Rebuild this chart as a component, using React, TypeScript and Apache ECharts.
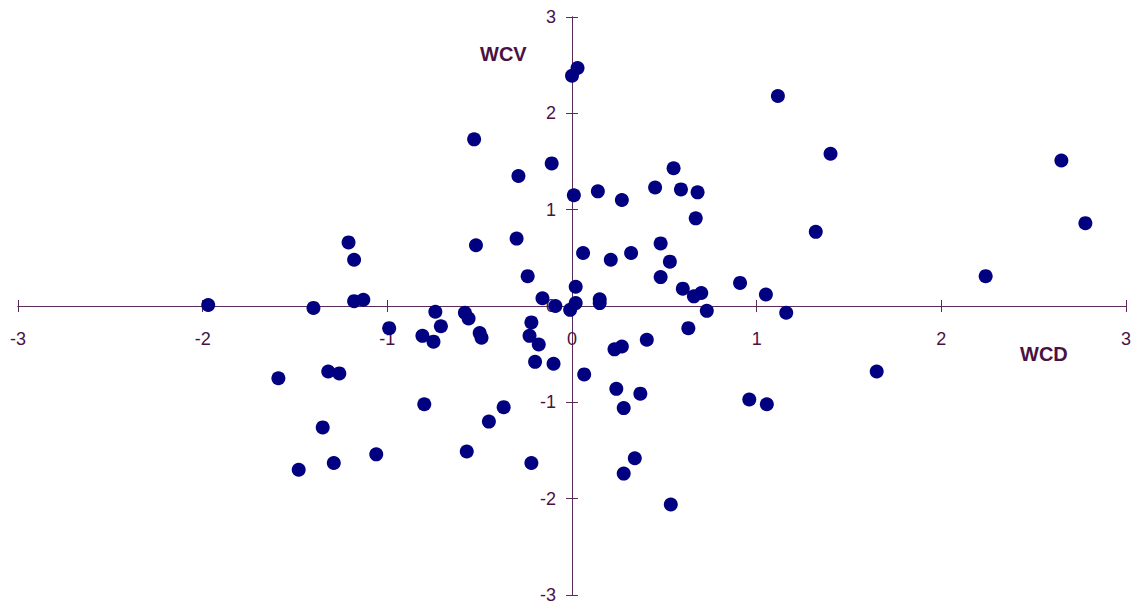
import React, { useEffect, useRef } from "react";
import * as echarts from "echarts";

// WCD (x) values
const wcd: number[] = [
  0.0, 0.03, -0.53, -0.11, -0.29, 0.01, 0.14, -1.21, -1.18, -0.52,
  -0.3, 0.06, -0.24, 0.02, -0.16, -1.18, -1.13, -1.97, -1.4, -0.99,
  -0.74, -0.71, -0.81, -0.75, -0.58, -0.56, -0.5, -0.49, -0.22, -0.23,
  -0.18, -0.2, -0.1, 0.066, -0.09, -0.01, 0.02, 0.15, 0.15, -1.59,
  -1.32, -1.26, -0.8, -0.37, -0.45, -1.35, -0.57, -1.06, -1.29, -0.22,
  -1.48, 1.115, 1.4, 2.65, 2.78, 2.24, 1.32, 0.55, 0.45, 0.59,
  0.68, 0.27, 0.67, 0.21, 0.32, 0.48, 0.53, 0.48, 0.6, 0.66,
  0.7, 0.91, 1.05, 1.16, 0.73, 0.63, 0.405, 0.23, 0.27, 0.24,
  0.37, 0.28, 0.34, 0.28, 0.535, 0.96, 1.055, 1.65,
];

// WCV (y) values
const wcv: number[] = [
  2.39, 2.47, 1.73, 1.48, 1.35, 1.15, 1.19, 0.66, 0.48, 0.63,
  0.7, 0.55, 0.31, 0.2, 0.08, 0.05, 0.065, 0.01, -0.02, -0.23,
  -0.06, -0.21, -0.31, -0.37, -0.07, -0.13, -0.28, -0.33, -0.17, -0.31,
  -0.4, -0.58, -0.6, -0.71, 0.0, -0.04, 0.03, 0.07, 0.03, -0.75,
  -0.68, -0.7, -1.02, -1.05, -1.2, -1.26, -1.51, -1.54, -1.63, -1.63,
  -1.7, 2.18, 1.58, 1.51, 0.86, 0.31, 0.77, 1.43, 1.23, 1.21,
  1.18, 1.1, 0.91, 0.48, 0.55, 0.65, 0.46, 0.3, 0.18, 0.1,
  0.135, 0.24, 0.12, -0.07, -0.05, -0.23, -0.35, -0.45, -0.42, -0.86,
  -0.91, -1.06, -1.58, -1.74, -2.06, -0.97, -1.02, -0.68,
];

const axisMin = -3;
const axisMax = 3;
const axisStep = 1;
const xTitle = "WCD";
const yTitle = "WCV";

const TEXT = "#4a1242";
const LINE = "#5a2a5a";

// grid layout (pixels)
const G_LEFT = 18;
const G_RIGHT = 15;
const G_TOP = 17;
const G_BOTTOM = 10;
const W = 1141;
const H = 605;
const gridW = W - G_LEFT - G_RIGHT;
const gridH = H - G_TOP - G_BOTTOM;

export default function App() {
  const ref = useRef<HTMLDivElement>(null);

  useEffect(() => {
    if (!ref.current) return;
    const chart = echarts.init(ref.current, undefined, { renderer: "svg" });
    const points = wcd.map((x, i) => [x, wcv[i]]);

    // place the axes where the other axis is zero (crossing axes)
    const yOffset = -gridW * ((0 - axisMin) / (axisMax - axisMin));
    const xOffset = -gridH * ((0 - axisMin) / (axisMax - axisMin));

    const baseX = (inside: boolean, labels: boolean) => ({
      type: "value" as const,
      min: axisMin,
      max: axisMax,
      interval: axisStep,
      position: "bottom" as const,
      offset: xOffset,
      axisLine: { show: true, onZero: false, lineStyle: { color: LINE, width: 1 } },
      axisTick: { show: true, inside, length: 6, lineStyle: { color: LINE, width: 1 } },
      axisLabel: {
        show: labels,
        color: TEXT,
        fontSize: 18,
        fontFamily: "Liberation Sans, Arial, sans-serif",
        margin: 24,
        showMinLabel: true,
        showMaxLabel: true,
      },
      splitLine: { show: false },
    });
    const baseY = (inside: boolean, labels: boolean) => ({
      type: "value" as const,
      min: axisMin,
      max: axisMax,
      interval: axisStep,
      position: "left" as const,
      offset: yOffset,
      axisLine: { show: true, onZero: false, lineStyle: { color: LINE, width: 1 } },
      axisTick: { show: true, inside, length: 6, lineStyle: { color: LINE, width: 1 } },
      axisLabel: {
        show: labels,
        color: TEXT,
        fontSize: 18,
        fontFamily: "Liberation Sans, Arial, sans-serif",
        margin: 16,
        showMinLabel: true,
        showMaxLabel: true,
      },
      splitLine: { show: false },
    });

    chart.setOption({
      animation: false,
      backgroundColor: "#ffffff",
      grid: {
        left: G_LEFT,
        right: G_RIGHT,
        top: G_TOP,
        bottom: G_BOTTOM,
        containLabel: false,
        outerBoundsMode: "none",
      },
      xAxis: [baseX(false, true), baseX(true, false)],
      yAxis: [baseY(false, true), baseY(true, false)],
      series: [
        {
          type: "scatter",
          xAxisIndex: 0,
          yAxisIndex: 0,
          data: points,
          symbol: "circle",
          symbolSize: 14,
          itemStyle: { color: "#000080", opacity: 1 },
        },
      ],
      graphic: [
        {
          type: "text",
          left: 480,
          top: 44,
          style: {
            text: yTitle,
            fill: TEXT,
            font: "bold 20px 'Liberation Sans', Arial, sans-serif",
          },
        },
        {
          type: "text",
          left: 1020,
          top: 344,
          style: {
            text: xTitle,
            fill: TEXT,
            font: "bold 20px 'Liberation Sans', Arial, sans-serif",
          },
        },
      ],
    });

    return () => chart.dispose();
  }, []);

  return (
    <div
      ref={ref}
      style={{ position: "fixed", left: 0, top: 0, width: W, height: H, background: "#fff" }}
    />
  );
}
